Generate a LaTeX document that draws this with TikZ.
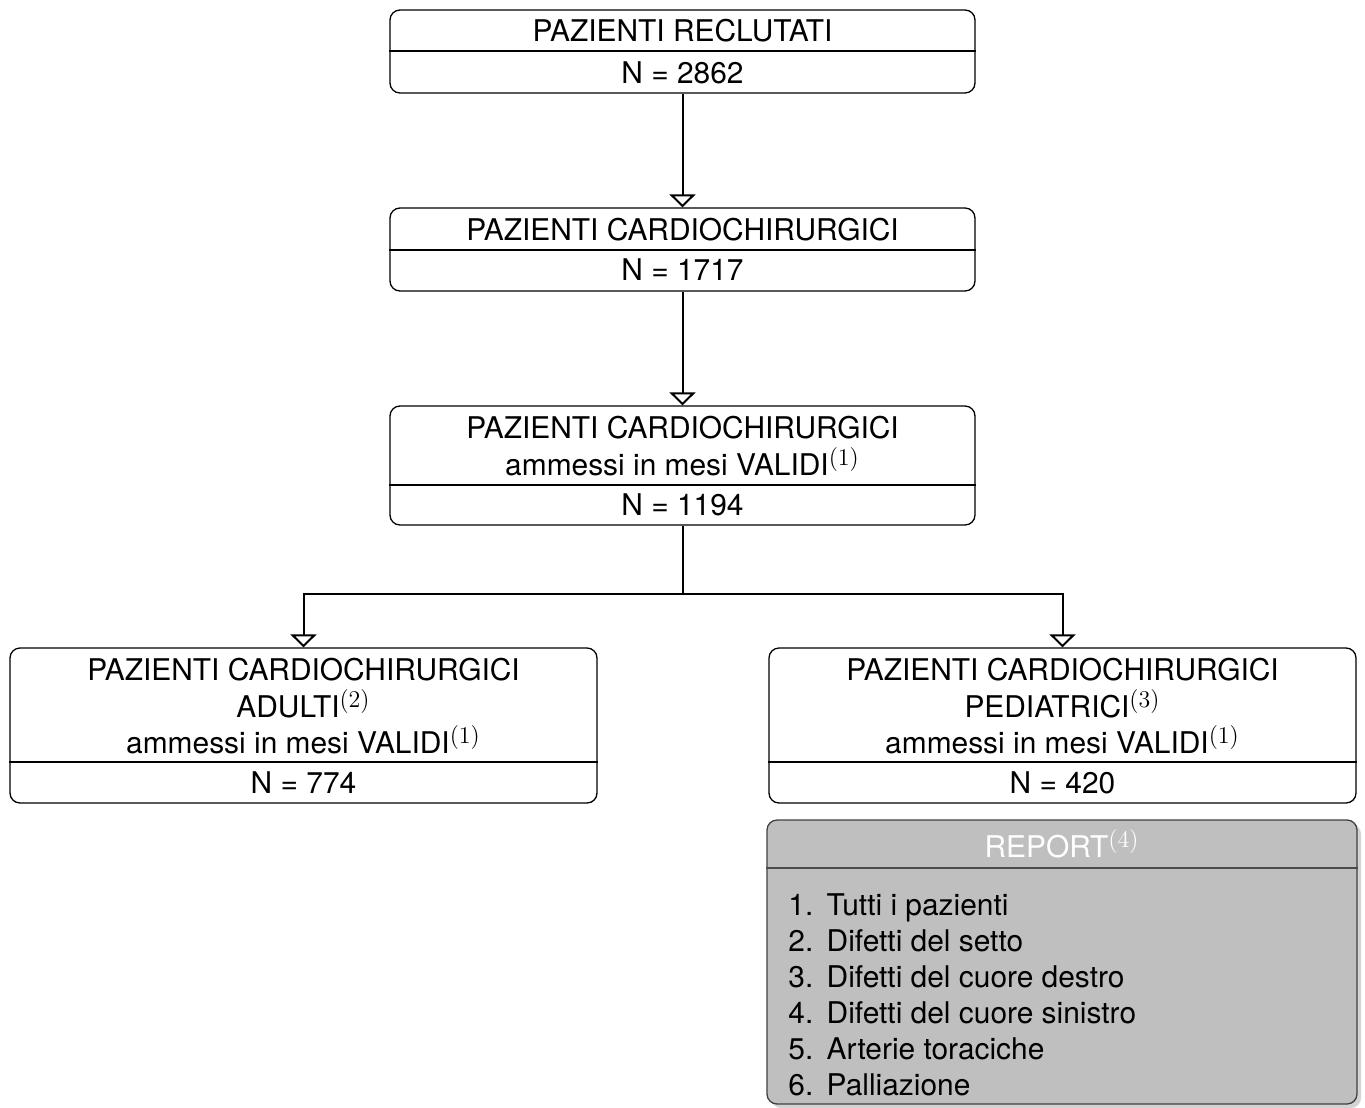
\documentclass[tikz,border=0pt]{standalone}
\usepackage[no-math]{fontspec}
\setmainfont{TeX Gyre Heros}
\DeclareMathSizes{14.95}{14.95}{12}{9}
\usetikzlibrary{arrows.meta,shadows}
\begin{document}
\begin{tikzpicture}[x=0.5pt,y=-0.5pt,
  font=\fontsize{14.95}{18}\selectfont,
  box/.style={draw, line width=0.65pt, rounded corners=5pt, inner sep=0pt},
  divider/.style={line width=0.65pt},
  txt/.style={anchor=base, inner sep=0pt},
  arr/.style={line width=1pt, -{Triangle[open, width=13pt, length=6.5pt, line width=1pt]}}]
\useasboundingbox (0,0) rectangle (1365,1108);

% boxes
\node[box, minimum width=292.5pt, minimum height=41.5pt] (b1) at (682.5,51.5) {};
\node[box, minimum width=292.5pt, minimum height=41.5pt] (b2) at (682.5,249.5) {};
\node[box, minimum width=292.5pt, minimum height=59.5pt] (b3) at (682.5,465.5) {};
\node[box, minimum width=293.5pt, minimum height=77.5pt] (b4) at (303.5,725.5) {};
\node[box, minimum width=293.5pt, minimum height=77.5pt] (b5) at (1062.5,725.5) {};
\node[box, draw=black!75, fill=black!25, minimum width=295pt, minimum height=142pt,
      drop shadow={shadow xshift=2pt, shadow yshift=-2pt, opacity=0.35, fill=black!50}] (rep) at (1062,962) {};

% dividers
\draw[divider] (b1.west |- 0,51) -- (b1.east |- 0,51);
\draw[divider] (b2.west |- 0,250) -- (b2.east |- 0,250);
\draw[divider] (b3.west |- 0,485) -- (b3.east |- 0,485);
\draw[divider] (b4.west |- 0,762) -- (b4.east |- 0,762);
\draw[divider] (b5.west |- 0,762) -- (b5.east |- 0,762);
\draw[divider, draw=black!70] (rep.west |- 0,868) -- (rep.east |- 0,868);

% texts
\node[txt] (t1a) at (682.5,41.5) {PAZIENTI RECLUTATI};
\node[txt] (t1b) at (682.5,83) {N = 2862};
\node[txt] (t2a) at (682.5,240.5) {PAZIENTI CARDIOCHIRURGICI};
\node[txt] (t2b) at (682.5,280.5) {N = 1717};
\node[txt] (t3a) at (682.5,438.5) {PAZIENTI CARDIOCHIRURGICI};
\node[txt] (t3b) at (682.5,475.5) {ammessi in mesi VALIDI$^{(1)}$};
\node[txt] (t3c) at (682.5,515.5) {N = 1194};
\node[txt] (t4a) at (303.5,680.5) {PAZIENTI CARDIOCHIRURGICI};
\node[txt] (t4b) at (303.5,717.5) {ADULTI$^{(2)}$};
\node[txt] (t4c) at (303.5,753.5) {ammessi in mesi VALIDI$^{(1)}$};
\node[txt] (t4d) at (303.5,793.5) {N = 774};
\node[txt] (t5a) at (1062.5,680.5) {PAZIENTI CARDIOCHIRURGICI};
\node[txt] (t5b) at (1062.5,717.5) {PEDIATRICI$^{(3)}$};
\node[txt] (t5c) at (1062.5,753.5) {ammessi in mesi VALIDI$^{(1)}$};
\node[txt] (t5d) at (1062.5,793.5) {N = 420};
\node[txt, text=white] (rt) at (1062,857.5) {REPORT$^{(4)}$};
\node[anchor=base west, inner sep=0pt] (rl) at (788,915.5) {%
  \begin{tabular}[t]{@{}r@{\hspace{6.7pt}}l@{}}
  1. & Tutti i pazienti\\
  2. & Difetti del setto\\
  3. & Difetti del cuore destro\\
  4. & Difetti del cuore sinistro\\
  5. & Arterie toraciche\\
  6. & Palliazione
  \end{tabular}};

% connectors
\draw[arr] (b1.south) -- (b2.north);
\draw[arr] (b2.south) -- (b3.north);
\draw[arr] (b3.south) -- ++(0,-34pt) -| (b4.north);
\draw[arr] (b3.south) -- ++(0,-34pt) -| (b5.north);
\end{tikzpicture}
\end{document}
